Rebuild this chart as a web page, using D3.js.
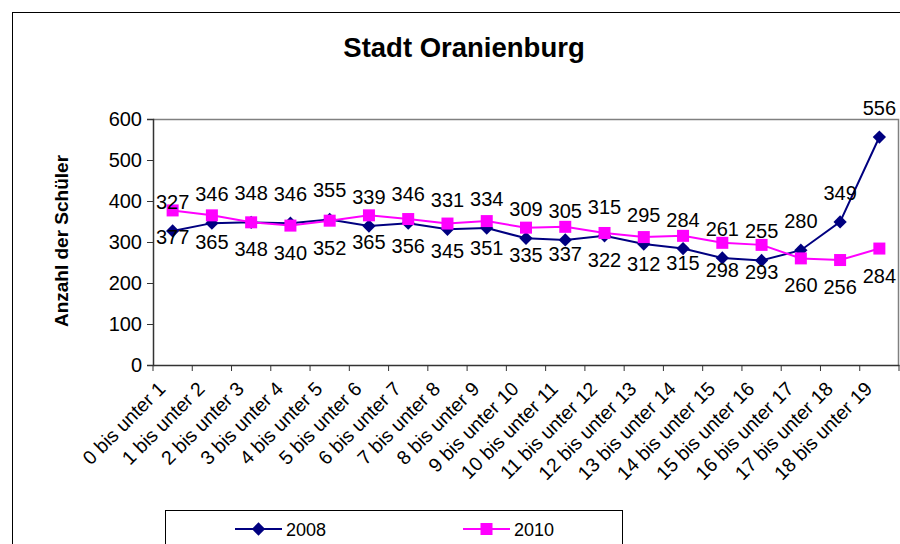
<!DOCTYPE html>
<html><head><meta charset="utf-8">
<script src="https://cdn.jsdelivr.net/npm/d3@7"></script>
<style>body{margin:0;background:#fff}svg{display:block;font-family:"Liberation Sans",Arial,sans-serif}</style>
</head><body><svg id="c" width="900" height="544"></svg>
<script>
const categories = ["0 bis unter 1","1 bis unter 2","2 bis unter 3","3 bis unter 4","4 bis unter 5","5 bis unter 6","6 bis unter 7","7 bis unter 8","8 bis unter 9","9 bis unter 10","10 bis unter 11","11 bis unter 12","12 bis unter 13","13 bis unter 14","14 bis unter 15","15 bis unter 16","16 bis unter 17","17 bis unter 18","18 bis unter 19"];
const values2008 = [327,346,348,346,355,339,346,331,334,309,305,315,295,284,261,255,280,349,556];
const values2010 = [377,365,348,340,352,365,356,345,351,335,337,322,312,315,298,293,260,256,284];
const yTicks = [0,100,200,300,400,500,600];
const seriesNames = ["2008","2010"];

const svg = d3.select("#c");
const m = {l:153, r:899, t:119, b:365};
const x = d3.scaleBand().domain(categories).range([m.l, m.r]);
const y = d3.scaleLinear().domain([0,600]).range([m.b, m.t]);

svg.append("rect").attr("x",12.5).attr("y",12.5).attr("width",900).attr("height",600)
  .attr("fill","none").attr("stroke","#000").attr("stroke-width",1);

svg.append("text").attr("x",464).attr("y",57).attr("text-anchor","middle")
  .attr("font-size",27.5).attr("font-weight","bold").text("Stadt Oranienburg");

svg.append("path").attr("d",`M${m.l},${m.t+0.5}H${m.r-0.5}V${m.b}`).attr("fill","none").attr("stroke","#808080").attr("stroke-width",1.5);

const yAxis = svg.append("g").attr("transform",`translate(${m.l},0)`)
  .call(d3.axisLeft(y).tickValues(yTicks).tickSize(6).tickPadding(5).tickFormat(d3.format("d")));
yAxis.select(".domain").attr("stroke","#333").attr("stroke-width",1.5);
yAxis.selectAll(".tick line").attr("stroke","#333");
yAxis.selectAll("text").attr("font-size",20).attr("fill","#000").attr("font-family","Liberation Sans, Arial, sans-serif");

const xAxis = svg.append("g").attr("transform",`translate(0,${m.b})`)
  .call(d3.axisBottom(x).tickSize(0).tickFormat(""));
xAxis.select(".domain").attr("stroke","#333").attr("stroke-width",1.5);
const bounds = categories.map(c => x(c)).concat([m.r]);
svg.append("g").selectAll("line").data(bounds).join("line")
  .attr("x1",d=>d).attr("x2",d=>d).attr("y1",m.b).attr("y2",m.b+6)
  .attr("stroke","#333").attr("stroke-width",1);
svg.append("g").selectAll("text").data(categories).join("text")
  .attr("transform",d=>`translate(${x(d)+x.bandwidth()/2-6},${m.b+25}) rotate(-45)`)
  .attr("text-anchor","end").attr("font-size",19.5).text(d=>d);

svg.append("text").attr("transform","translate(68,241) rotate(-90)")
  .attr("text-anchor","middle").attr("font-size",19).attr("font-weight","bold").text("Anzahl der Schüler");

const cx = d => x(d)+x.bandwidth()/2;
const line = d3.line().x((d,i)=>cx(categories[i])).y(d=>y(d));
const diamond = d3.symbol(d3.symbolSquare,88)();

svg.append("path").datum(values2008).attr("d",line).attr("fill","none").attr("stroke","#000080").attr("stroke-width",2);
svg.append("g").selectAll("path").data(values2008).join("path")
  .attr("d",diamond)
  .attr("transform",(d,i)=>`translate(${cx(categories[i])},${y(d)}) rotate(45)`)
  .attr("fill","#000080");
svg.append("path").datum(values2010).attr("d",line).attr("fill","none").attr("stroke","#FF00FF").attr("stroke-width",2);
svg.append("g").selectAll("rect").data(values2010).join("rect")
  .attr("x",(d,i)=>cx(categories[i])-6).attr("y",d=>y(d)-6).attr("width",12).attr("height",12)
  .attr("fill","#FF00FF");

svg.append("g").selectAll("text").data(values2008).join("text")
  .attr("x",(d,i)=>cx(categories[i])).attr("y",d=>y(d)-22)
  .attr("text-anchor","middle").attr("font-size",20).text(d=>d);
svg.append("g").selectAll("text").data(values2010).join("text")
  .attr("x",(d,i)=>cx(categories[i])).attr("y",d=>y(d)+34)
  .attr("text-anchor","middle").attr("font-size",20).text(d=>d);

svg.append("rect").attr("x",165.5).attr("y",510.5).attr("width",457).attr("height",60)
  .attr("fill","none").attr("stroke","#000").attr("stroke-width",1);
const lg = [{x:235, name:seriesNames[0], c:"#000080"},{x:463, name:seriesNames[1], c:"#FF00FF"}];
lg.forEach((o,k)=>{
  const g = svg.append("g");
  g.append("line").attr("x1",o.x).attr("x2",o.x+47).attr("y1",529).attr("y2",529).attr("stroke",o.c).attr("stroke-width",2);
  if(k===0) g.append("path").attr("d",diamond).attr("transform",`translate(${o.x+23.5},529) rotate(45)`).attr("fill",o.c);
  else g.append("rect").attr("x",o.x+23.5-6).attr("y",523).attr("width",12).attr("height",12).attr("fill",o.c);
  g.append("text").attr("x",o.x+51).attr("y",535.5).attr("font-size",18).text(o.name);
});
</script></body></html>
